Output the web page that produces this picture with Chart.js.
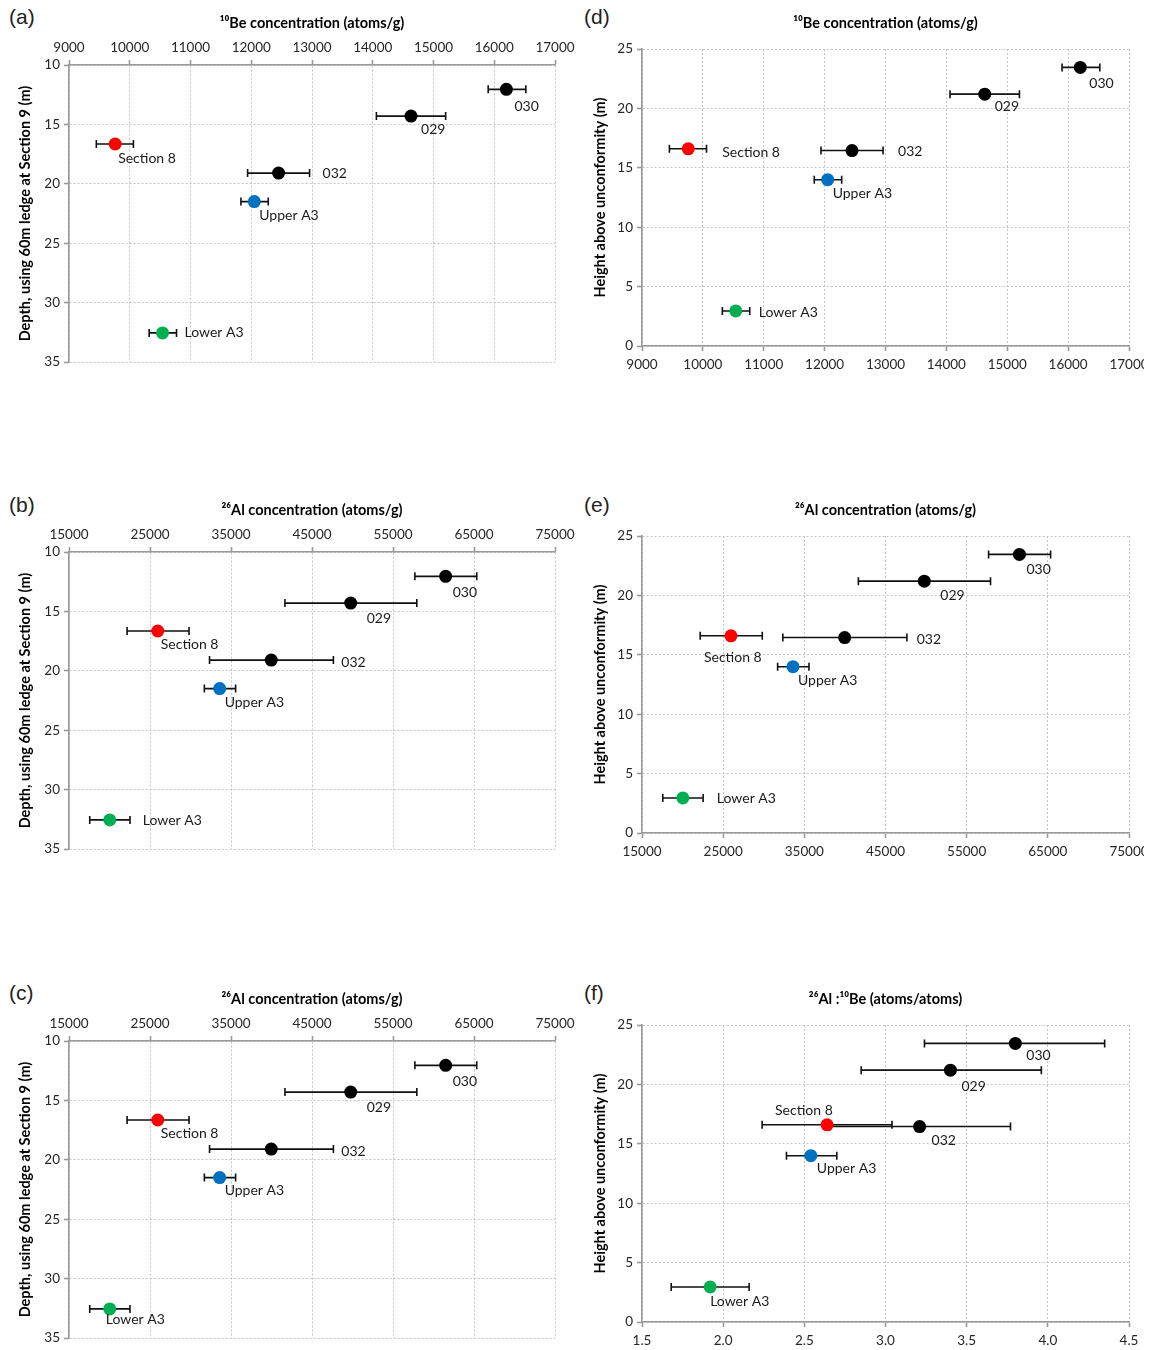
<!DOCTYPE html>
<html>
<head>
<meta charset="utf-8">
<script src="https://cdn.jsdelivr.net/npm/chart.js@4.4.0/dist/chart.umd.min.js"></script>
<style>
  body { margin: 0; background: #fff; width: 1159px; height: 1350px; position: relative; overflow: hidden; }
  canvas { position: absolute; }
  .tag { position: absolute; font: 21px "Liberation Sans", Arial, sans-serif; color: #222; }
</style>
</head>
<body>
<div class="tag" style="left:9px;top:5px">(a)</div>
<div class="tag" style="left:9px;top:493px">(b)</div>
<div class="tag" style="left:9px;top:981px">(c)</div>
<div class="tag" style="left:584px;top:5px">(d)</div>
<div class="tag" style="left:584px;top:493px">(e)</div>
<div class="tag" style="left:584px;top:981px">(f)</div>

<canvas id="a" width="580" height="380" style="left:0;top:0"></canvas>
<canvas id="b" width="580" height="380" style="left:0;top:487px"></canvas>
<canvas id="c" width="580" height="374" style="left:0;top:976px"></canvas>
<canvas id="d" width="564" height="380" style="left:580px;top:0"></canvas>
<canvas id="e" width="564" height="380" style="left:580px;top:487px"></canvas>
<canvas id="f" width="564" height="374" style="left:580px;top:976px"></canvas>

<script>
// samples, in the same order everywhere
const samples = ['030', '029', 'Section 8', '032', 'Upper A3', 'Lower A3'];
const pointColors = ['#000000', '#000000', '#ff0000', '#000000', '#0070c0', '#00b050'];

// depth below the 60m ledge (m) and height above the unconformity (m)
const depth = [12.05, 14.3, 16.65, 19.1, 21.5, 32.55];
const height = [23.45, 21.2, 16.6, 16.45, 14.0, 2.95];

// 10Be (atoms/g) with error range
const be10 = [16200, 14630, 9760, 12450, 12050, 10540];
const be10Low = [15900, 14060, 9450, 11940, 11830, 10320];
const be10High = [16520, 15200, 10060, 12960, 12280, 10770];

// 26Al (atoms/g) with error range
const al26 = [61500, 49780, 25960, 39970, 33600, 20030];
const al26Low = [57700, 41660, 22170, 32350, 31710, 17560];
const al26High = [65340, 57940, 29820, 47640, 35570, 22530];

// 26Al/10Be ratio with error range
const ratio = [3.80, 3.40, 2.64, 3.21, 2.54, 1.92];
const ratioLow = [3.24, 2.85, 2.24, 2.66, 2.39, 1.68];
const ratioHigh = [4.35, 3.96, 3.04, 3.77, 2.70, 2.16];

// label nudges in px from each point [dx, dy]
const nudgeA = [[8, 17], [10, 13], [3, 14], [44, 0], [5, 14], [22, 0]];
const nudgeB = [[7, 16], [16, 15], [3, 13], [70, 2], [5, 14], [33, 1]];
const nudgeC = [[7, 16], [16, 15], [3, 13], [70, 2], [5, 13], [-4, 11]];
const nudgeD = [[9, 16], [10, 12], [34, 4], [46, 1], [5, 14], [23, 2]];
const nudgeE = [[7, 15], [16, 14], [-27, 22], [72, 2], [5, 14], [34, 1]];
const nudgeF = [[11, 12], [11, 16], [-52, -14], [12, 14], [6, 13], [0, 15]];

const FONT = 'Lato, "Open Sans", sans-serif';
const tickFont = { family: FONT, size: 13.5 };
const titleFont = { family: FONT, size: 14.5, weight: 'bold' };
const TITLE_LH = 14.5 * 1.2;

// horizontal error bars, drawn under the points
const errorBars = {
  id: 'errorBars',
  beforeDatasetsDraw(chart, args, opts) {
    const { ctx, scales: { x, y } } = chart;
    const pts = chart.data.datasets[0].data;
    ctx.save();
    ctx.strokeStyle = '#111';
    ctx.lineWidth = 1.6;
    pts.forEach((p, i) => {
      const py = y.getPixelForValue(p.y);
      const x1 = x.getPixelForValue(opts.low[i]);
      const x2 = x.getPixelForValue(opts.high[i]);
      ctx.beginPath();
      ctx.moveTo(x1, py); ctx.lineTo(x2, py);
      ctx.moveTo(x1, py - 4); ctx.lineTo(x1, py + 4);
      ctx.moveTo(x2, py - 4); ctx.lineTo(x2, py + 4);
      ctx.stroke();
    });
    ctx.restore();
  }
};

// sample names next to the points
const pointLabels = {
  id: 'pointLabels',
  afterDatasetsDraw(chart, args, opts) {
    const { ctx } = chart;
    const meta = chart.getDatasetMeta(0);
    ctx.save();
    ctx.font = '14px ' + FONT;
    ctx.fillStyle = '#1a1a1a';
    ctx.textAlign = 'left';
    ctx.textBaseline = 'middle';
    meta.data.forEach((el, i) => {
      const [dx, dy] = opts.nudge[i];
      ctx.fillText(samples[i], el.x + dx, el.y + dy);
    });
    ctx.restore();
  }
};

function makeChart(id, p) {
  const canvas = document.getElementById(id);
  const W = canvas.width, H = canvas.height;
  const left = p.side === 'left';
  const areaTop = left ? 65 : 49;
  const areaBottom = left ? 362 : 346;
  const areaLeft = left ? 69 : 62;
  const areaRight = left ? 555 : 549;
  const padTop = 23 - TITLE_LH / 2;
  const titlePad = left ? { top: padTop, bottom: 0 } : { top: padTop, bottom: areaTop - padTop - TITLE_LH };
  const titleH = titlePad.top + titlePad.bottom + TITLE_LH;
  const yTitleCenter = left ? 25 : 20;

  const grid = { color: '#c4c4c4', tickColor: '#999', tickLength: 5, tickWidth: 1.6 };
  const border = { color: '#999', width: 1.6, dash: [2, 2] };

  return new Chart(canvas, {
    type: 'scatter',
    data: {
      datasets: [{
        data: p.xs.map((v, i) => ({ x: v, y: p.ys[i] })),
        pointRadius: 6.5,
        pointHoverRadius: 6.5,
        pointBorderWidth: 0,
        pointBackgroundColor: pointColors,
      }]
    },
    options: {
      responsive: false,
      animation: false,
      events: [],
      layout: { padding: { left: 0, top: 0, right: W - areaRight, bottom: left ? H - areaBottom : 0 } },
      plugins: {
        legend: { display: false },
        tooltip: { enabled: false },
        title: { display: true, text: p.title, font: titleFont, color: '#000', fullSize: false, padding: titlePad },
        errorBars: { low: p.lo, high: p.hi },
        pointLabels: { nudge: p.nudge },
      },
      scales: {
        x: {
          type: 'linear',
          position: left ? 'top' : 'bottom',
          min: p.xMin, max: p.xMax,
          ticks: { stepSize: p.xStep, callback: p.fmt, font: tickFont, color: '#262626', padding: left ? 4 : 6, maxRotation: 0, autoSkip: false },
          grid: grid, border: border,
          afterFit(s) { s.height = left ? areaTop - titleH : H - areaBottom; s.paddingLeft = 0; s.paddingRight = 0; }
        },
        y: {
          type: 'linear',
          position: 'left',
          reverse: p.reverse,
          min: p.yMin, max: p.yMax,
          ticks: { stepSize: 5, font: tickFont, color: '#262626', padding: 4 },
          title: { display: true, text: p.yTitle, font: titleFont, color: '#000', padding: { top: yTitleCenter - TITLE_LH / 2 } },
          grid: grid, border: border,
          afterFit(s) { s.width = areaLeft; s.paddingTop = 0; s.paddingBottom = 0; }
        }
      }
    },
    plugins: [errorBars, pointLabels]
  });
}

const plain = v => String(v);
const oneDec = v => v.toFixed(1);
const depthTitle = 'Depth, using 60m ledge at Section 9 (m)';
const heightTitle = 'Height above unconformity (m)';
const beTitle = '\u00b9\u2070Be concentration (atoms/g)';
const alTitle = '\u00b2\u2076Al concentration (atoms/g)';
const ratioTitle = '\u00b2\u2076Al :\u00b9\u2070Be (atoms/atoms)';

makeChart('a', { side: 'left', xs: be10, lo: be10Low, hi: be10High, ys: depth, xMin: 9000, xMax: 17000, xStep: 1000, fmt: plain, yMin: 10, yMax: 35, reverse: true, title: beTitle, yTitle: depthTitle, nudge: nudgeA });
makeChart('b', { side: 'left', xs: al26, lo: al26Low, hi: al26High, ys: depth, xMin: 15000, xMax: 75000, xStep: 10000, fmt: plain, yMin: 10, yMax: 35, reverse: true, title: alTitle, yTitle: depthTitle, nudge: nudgeB });
makeChart('c', { side: 'left', xs: al26, lo: al26Low, hi: al26High, ys: depth, xMin: 15000, xMax: 75000, xStep: 10000, fmt: plain, yMin: 10, yMax: 35, reverse: true, title: alTitle, yTitle: depthTitle, nudge: nudgeC });
makeChart('d', { side: 'right', xs: be10, lo: be10Low, hi: be10High, ys: height, xMin: 9000, xMax: 17000, xStep: 1000, fmt: plain, yMin: 0, yMax: 25, reverse: false, title: beTitle, yTitle: heightTitle, nudge: nudgeD });
makeChart('e', { side: 'right', xs: al26, lo: al26Low, hi: al26High, ys: height, xMin: 15000, xMax: 75000, xStep: 10000, fmt: plain, yMin: 0, yMax: 25, reverse: false, title: alTitle, yTitle: heightTitle, nudge: nudgeE });
makeChart('f', { side: 'right', xs: ratio, lo: ratioLow, hi: ratioHigh, ys: height, xMin: 1.5, xMax: 4.5, xStep: 0.5, fmt: oneDec, yMin: 0, yMax: 25, reverse: false, title: ratioTitle, yTitle: heightTitle, nudge: nudgeF });
</script>
</body>
</html>
